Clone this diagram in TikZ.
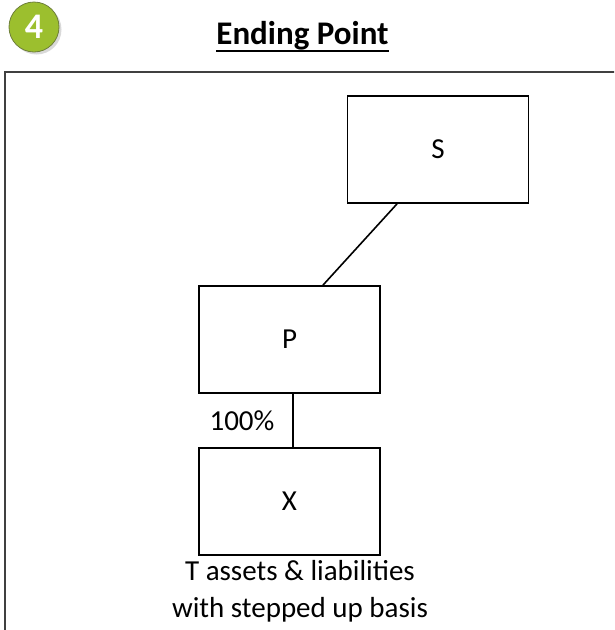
\documentclass[tikz,border=0pt]{standalone}
\usepackage{fontspec}
\setmainfont{Carlito}
\usetikzlibrary{calc}
\definecolor{badgegreen}{HTML}{9CBF2E}
\definecolor{badgeborder}{HTML}{6E7F3A}
\definecolor{framegray}{HTML}{404040}
\begin{document}
\begin{tikzpicture}[x=1pt,y=-1pt,
  box/.style={draw=black,line width=1.8pt,minimum width=181pt,minimum height=107pt,inner sep=0pt,font=\fontsize{29}{37}\selectfont},
  lbl/.style={inner sep=0pt,font=\fontsize{29}{37}\selectfont},
  link/.style={line width=1.6pt,black}]
\useasboundingbox (0,0) rectangle (614,630);
\clip (0,0) rectangle (614,630);
% outer frame (continues past the right and bottom edges)
\draw[framegray,line width=2pt] (4.5,660) -- (4.5,72) -- (660,72);
% badge
\fill[gray!30] (36.5,29.5) circle (25);
\node[circle,draw=badgeborder,line width=0.8pt,fill=badgegreen,minimum size=50pt,inner sep=0pt,text=white,font=\bfseries\fontsize{36}{36}\selectfont] (badge) at (34,27) {4};
% title
\node[inner sep=0pt,anchor=base,font=\bfseries\fontsize{33}{40}\selectfont] (title) at (302.5,44) {Ending Point};
\draw[line width=2.4pt] ([yshift=-7pt]title.base west) -- ([yshift=-7pt]title.base east);
% boxes
\node[box] (S) at (438,149.5) {S};
\node[box] (P) at (289.5,339.5) {P};
\node[box] (X) at (289.5,501.5) {X};
% labels
\node[lbl] (pct) at (242,421) {100\%};
\node[lbl,align=center,anchor=base] (note) at (300,617) {T assets \& liabilities\\with stepped up basis};
% connectors
\draw[link] ([xshift=-41pt]S.south) -- ([xshift=33.5pt]P.north);
\draw[link] ([xshift=3.5pt]P.south) -- ([xshift=3.5pt]X.north);
\end{tikzpicture}
\end{document}
